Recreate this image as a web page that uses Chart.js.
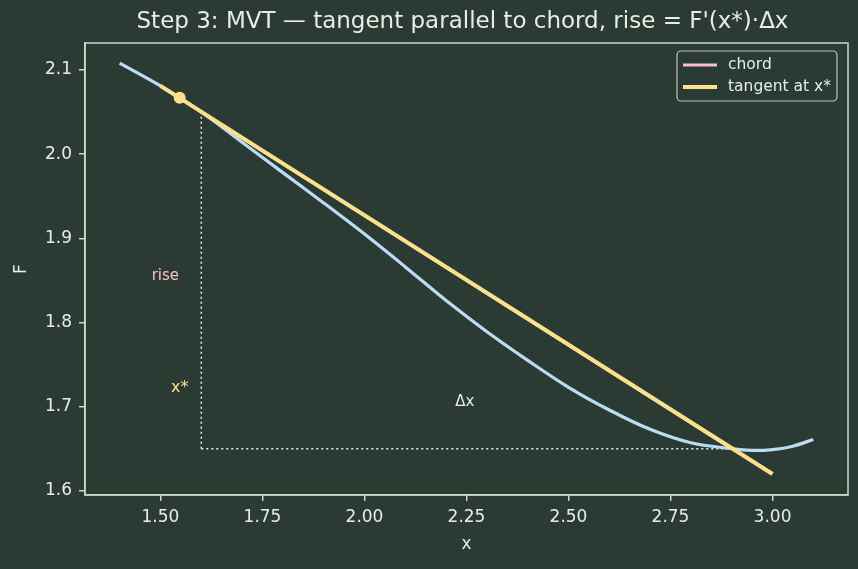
<!DOCTYPE html>
<html>
<head>
<meta charset="utf-8">
<script src="https://cdn.jsdelivr.net/npm/chart.js@4.4.1/dist/chart.umd.min.js"></script>
<style>
  html, body { margin: 0; padding: 0; background: #2b3b34; }
  #wrap { width: 858px; height: 569px; }
</style>
</head>
<body>
<div id="wrap"><canvas id="chart" width="858" height="569"></canvas></div>
<script>
/*=================================
      data
=================================*/
const curveX = [1.4, 1.5, 1.6, 1.7, 1.8, 1.9, 2.0, 2.1, 2.2, 2.3, 2.4, 2.5, 2.6, 2.7, 2.8, 2.9, 2.95, 3.0, 3.05, 3.1];
const curveY = [2.108, 2.081, 2.050, 2.014, 1.978, 1.942, 1.905, 1.866, 1.826, 1.789, 1.755, 1.723, 1.696, 1.673, 1.657, 1.650, 1.648, 1.649, 1.653, 1.661];

const chordX = [1.6, 2.9];
const chordY = [2.05, 1.65];

const tangentX = [1.5, 3.0];
const tangentY = [2.081, 1.620];

const xStar = [1.547];
const fStar = [2.067];

// dotted rise / run guides
const riseX = [1.6, 1.6];
const riseY = [1.65, 2.05];
const runX = [1.6, 2.9];
const runY = [1.65, 1.65];

const xTicks = [1.5, 1.75, 2.0, 2.25, 2.5, 2.75, 3.0];
const yTicks = [1.6, 1.7, 1.8, 1.9, 2.0, 2.1];

// text labels
const labelNames = ["rise", "x*", "Δx"];
const labelX = [1.512, 1.547, 2.246];
const labelY = [1.855, 1.722, 1.705];

const titleText = "Step 3: MVT — tangent parallel to chord, rise = F'(x*)·Δx";

/*=================================
      colors
=================================*/
const bg = "#2b3b34";
const fg = "#e6ede7";
const frame = "#cad8cd";
const blue = "#bcdcf5";
const pink = "#f6c1cd";
const yellow = "#ffe08c";
const labelColors = [pink, yellow, fg];

function pts(xs, ys) {
  return xs.map((x, i) => ({ x: x, y: ys[i] }));
}

/*=================================
      extra drawing
=================================*/
const decor = {
  id: "decor",
  beforeDraw(chart) {
    const ctx = chart.ctx;
    ctx.save();
    ctx.fillStyle = bg;
    ctx.fillRect(0, 0, chart.width, chart.height);
    ctx.restore();
  },
  afterDatasetsDraw(chart) {
    const ctx = chart.ctx;
    const a = chart.chartArea;
    const sx = chart.scales.x;
    const sy = chart.scales.y;
    ctx.save();

    // annotations
    ctx.textAlign = "center";
    ctx.textBaseline = "middle";
    for (let i = 0; i < labelNames.length; i++) {
      ctx.font = (i == 1 ? "16px" : "15px") + " 'DejaVu Sans'";
      ctx.fillStyle = labelColors[i];
      ctx.fillText(labelNames[i], sx.getPixelForValue(labelX[i]), sy.getPixelForValue(labelY[i]));
    }

    // frame
    ctx.strokeStyle = frame;
    ctx.lineWidth = 1.5;
    ctx.strokeRect(a.left, a.top, a.right - a.left, a.bottom - a.top);

    // title + axis titles
    ctx.fillStyle = fg;
    ctx.font = "23px 'DejaVu Sans'";
    ctx.fillText(titleText, (a.left + a.right) / 2 - 4, 22);
    ctx.font = "17px 'DejaVu Sans'";
    ctx.fillText("x", (a.left + a.right) / 2, 545);
    ctx.save();
    ctx.translate(22, (a.top + a.bottom) / 2);
    ctx.rotate(-Math.PI / 2);
    ctx.fillText("F", 0, 0);
    ctx.restore();

    // legend
    const lx = a.right - 171, ly = a.top + 8, lw = 160, lh = 50;
    ctx.beginPath();
    ctx.roundRect(lx, ly, lw, lh, 4);
    ctx.fillStyle = "rgba(43,59,52,0.8)";
    ctx.fill();
    ctx.strokeStyle = "rgba(210,222,212,0.85)";
    ctx.lineWidth = 1.2;
    ctx.stroke();
    const items = [["chord", pink, 3], ["tangent at x*", yellow, 4]];
    ctx.textAlign = "left";
    ctx.font = "15.5px 'DejaVu Sans'";
    items.forEach((it, i) => {
      const yy = ly + 14 + i * 22;
      ctx.strokeStyle = it[1];
      ctx.lineWidth = it[2];
      ctx.beginPath();
      ctx.moveTo(lx + 6, yy);
      ctx.lineTo(lx + 40, yy);
      ctx.stroke();
      ctx.fillStyle = fg;
      ctx.fillText(it[0], lx + 51, yy);
    });
    ctx.restore();
  },
};

/*=================================
      chart
=================================*/
const lineDs = (label, xs, ys, color, width, order, extra) =>
  Object.assign(
    {
      label: label,
      data: pts(xs, ys),
      showLine: true,
      borderColor: color,
      backgroundColor: color,
      borderWidth: width,
      pointRadius: 0,
      order: order,
    },
    extra || {}
  );

const axisCommon = {
  type: "linear",
  grid: { display: true, drawOnChartArea: false, drawTicks: true, tickLength: 6, color: frame, lineWidth: 1.5 },
  border: { display: true, color: frame, width: 1.5 },
};

new Chart("chart", {
  type: "scatter",
  data: {
    datasets: [
      lineDs("curve", curveX, curveY, blue, 3.2, 3, { tension: 0.35 }),
      lineDs("chord", chordX, chordY, pink, 3, 2),
      lineDs("tangent at x*", tangentX, tangentY, yellow, 4, 1),
      lineDs("rise guide", riseX, riseY, "#e8eee9", 1.5, 4, { borderDash: [2, 3] }),
      lineDs("run guide", runX, runY, "#e8eee9", 1.5, 4, { borderDash: [2, 3] }),
      {
        label: "x*",
        data: pts(xStar, fStar),
        pointRadius: 6,
        pointBackgroundColor: yellow,
        pointBorderWidth: 0,
        order: 0,
      },
    ],
  },
  options: {
    responsive: false,
    animation: false,
    layout: { padding: { top: 43, right: 10, left: 0, bottom: 0 } },
    plugins: { legend: { display: false }, tooltip: { enabled: false }, title: { display: false } },
    scales: {
      x: Object.assign({}, axisCommon, {
        min: 1.315,
        max: 3.185,
        afterBuildTicks: (s) => { s.ticks = xTicks.map((v) => ({ value: v })); },
        afterFit: (s) => { s.height = 74; },
        ticks: {
          color: fg,
          font: { family: "DejaVu Sans", size: 17 },
          padding: 6,
          maxRotation: 0,
          autoSkip: false,
          callback: (v) => Number(v).toFixed(2),
        },
      }),
      y: Object.assign({}, axisCommon, {
        min: 1.595,
        max: 2.132,
        afterBuildTicks: (s) => { s.ticks = yTicks.map((v) => ({ value: v })); },
        afterFit: (s) => { s.width = 85; },
        ticks: {
          color: fg,
          font: { family: "DejaVu Sans", size: 17 },
          padding: 7,
          autoSkip: false,
          callback: (v) => Number(v).toFixed(1),
        },
      }),
    },
  },
  plugins: [decor],
});
</script>
</body>
</html>
